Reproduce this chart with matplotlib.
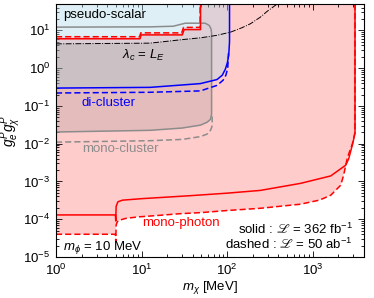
import matplotlib
matplotlib.use("Agg")
import matplotlib.pyplot as plt
from matplotlib.ticker import LogLocator, NullFormatter

plt.rcParams['font.family'] = ['Liberation Sans', 'DejaVu Sans']
plt.rcParams['mathtext.fontset'] = 'custom'
plt.rcParams['mathtext.rm'] = 'Liberation Sans'
plt.rcParams['mathtext.it'] = 'Liberation Sans:italic'
plt.rcParams['mathtext.bf'] = 'Liberation Sans:bold'
plt.rcParams['mathtext.fallback'] = 'stix'

# ---------------- data ----------------
# mono-photon lower boundary, solid (362 fb^-1)
mp_s_m = [1, 4.95, 5.0, 5.05, 5.3, 6, 10, 37, 100, 246, 722, 1630, 2445, 2650, 2950, 3140, 3140]
mp_s_g = [1.3e-4, 1.3e-4, 9e-5, 2.2e-4, 2.9e-4, 3.2e-4, 3.5e-4, 4.2e-4, 4.9e-4, 5.8e-4,
          8.9e-4, 1.4e-3, 2.7e-3, 4e-3, 1e-2, 1.9e-2, 50]
# mono-photon lower boundary, dashed (50 ab^-1)
mp_d_m = [1, 4.95, 5.0, 5.05, 5.2, 5.6, 6.5, 9, 15, 28, 50, 100, 246, 722, 1200, 1630,
          2130, 2300, 2560, 2930, 3140, 3140]
mp_d_g = [4e-5, 4e-5, 2.5e-5, 7e-5, 8.5e-5, 9.5e-5, 1.05e-4, 1.15e-4, 1.25e-4, 1.4e-4,
          1.5e-4, 1.7e-4, 1.95e-4, 2.5e-4, 3.2e-4, 4.3e-4, 7.9e-4, 1.4e-3, 4.3e-3, 1e-2, 2e-2, 50]
# mono-photon upper boundary (x < 49 MeV)
mpu_s_m = [1, 9.6, 9.9, 30, 31.5, 49, 49]
mpu_s_g = [6.0, 6.0, 7.6, 7.6, 10.5, 10.5, 50]
mpu_d_m = [1, 9.5, 9.8, 29.5, 31, 48.5, 48.5]
mpu_d_g = [6.8, 6.8, 8.6, 8.6, 12.0, 12.0, 50]
# di-cluster
dc_s_m = [1, 12.6, 48.8, 76.5, 88, 95.8, 101, 104.7, 107, 107]
dc_s_g = [0.297, 0.31, 0.39, 0.50, 0.65, 0.95, 1.4, 2.2, 5.0, 50]
dc_d_m = [1, 12.6, 48.8, 76.5, 90, 97, 102, 104]
dc_d_g = [0.22, 0.23, 0.25, 0.35, 0.48, 0.65, 1.0, 2.5]
# mono-cluster
mc_s_m = [1, 12.6, 30, 48.8, 58.5, 64, 66, 66, 65, 62, 55.6, 32.5, 23.5, 12.6, 1]
mc_s_g = [0.0204, 0.0226, 0.026, 0.031, 0.037, 0.044, 0.06, 8.5, 11.0, 13.5, 15.5, 15.5,
          12.9, 12.4, 12.2]
mc_d_m = [1, 12.6, 30, 48.8, 58.5, 64, 66.5, 67, 67]
mc_d_g = [0.011, 0.012, 0.013, 0.0154, 0.018, 0.0225, 0.028, 0.035, 0.055]
# lambda_c = L_E line
lam_m = [1, 12.6, 30, 50, 76, 110, 150, 188, 246, 295, 386]
lam_g = [4.4, 4.6, 5.7, 6.4, 7.4, 9.0, 11.8, 15, 22.5, 32, 50]

XMIN, XMAX, YMIN, YMAX = 1, 4000, 1e-5, 50

fig = plt.figure(figsize=(3.74, 2.98), dpi=100)
ax = fig.add_axes([56/374, 1-257/298, 308/374, 253/298])
ax.set_xscale('log')
ax.set_yscale('log')
ax.set_xlim(XMIN, XMAX)
ax.set_ylim(YMIN, YMAX)

# ---- fills ----
# mono-photon region (pink)
px_ = list(mp_d_m) + [3140, 49] + list(mpu_d_m[::-1])[1:]
py_ = list(mp_d_g) + [YMAX, YMAX] + list(mpu_d_g[::-1])[1:]
ax.fill(px_, py_, color=(1.0, 0.8, 0.8), lw=0, zorder=1)
# di-cluster region (light blue, alpha)
bx = list(dc_s_m) + [1]
by = list(dc_s_g) + [YMAX]
ax.fill(bx, by, color='#add8e6', alpha=0.4, lw=0, zorder=2)
# mono-cluster region (gray, alpha), bounded above by lambda_c line
lam_in = [(m, g) for m, g in zip(lam_m, lam_g) if m <= 66]
gx = list(mc_s_m[:7]) + [66] + [m for m, g in lam_in[::-1]]
gy = list(mc_s_g[:7]) + [6.9] + [g for m, g in lam_in[::-1]]
ax.fill(gx, gy, color='0.5', alpha=0.2, lw=0, zorder=3)

# ---- lines ----
ax.plot(mc_s_m, mc_s_g, color='#8c8c8c', lw=1.1, zorder=4)
ax.plot(mc_d_m, mc_d_g, color='#8c8c8c', lw=1.1, ls=(0, (4, 2)), zorder=4)
ax.plot(lam_m, lam_g, color='black', lw=0.7, ls=(0, (6, 1.5, 1, 1.5)), zorder=5)
ax.plot(dc_d_m, dc_d_g, color='#0000ff', lw=1.1, ls=(0, (4, 2)), zorder=6)
ax.plot(dc_s_m, dc_s_g, color='#0000ff', lw=1.1, zorder=6)
ax.plot(mp_d_m, mp_d_g, color='#ff0000', lw=1.1, ls=(0, (4, 2)), zorder=7)
ax.plot(mp_s_m, mp_s_g, color='#ff0000', lw=1.1, zorder=7)
ax.plot(mpu_d_m, mpu_d_g, color='#ff0000', lw=1.1, ls=(0, (4, 2)), zorder=7)
ax.plot(mpu_s_m, mpu_s_g, color='#ff0000', lw=1.1, zorder=7)

# ---- texts ----
fs = 9.5
ax.text(0.0227, 0.957, 'pseudo-scalar', transform=ax.transAxes, fontsize=fs, va='center', zorder=10)
ax.text(0.214, 0.798, r'$\lambda_c$ = $L_E$', transform=ax.transAxes, fontsize=fs, va='center', zorder=10)
ax.text(0.0844, 0.609, 'di-cluster', transform=ax.transAxes, fontsize=fs, va='center', color='#0000ff', zorder=10)
ax.text(0.0844, 0.427, 'mono-cluster', transform=ax.transAxes, fontsize=fs, va='center', color='#8c8c8c', zorder=10)
ax.text(0.279, 0.134, 'mono-photon', transform=ax.transAxes, fontsize=fs, va='center', color='#ff0000', zorder=10)
ax.text(0.0227, 0.036, r'$m_\phi$ = 10 MeV', transform=ax.transAxes, fontsize=fs, va='center', zorder=10)
ax.text(0.964, 0.111, 'solid : $\u2112$ = 362 fb$^{-1}$', transform=ax.transAxes, fontsize=fs,
        va='center', ha='right', zorder=10)
ax.text(0.964, 0.051, 'dashed : $\u2112$ = 50 ab$^{-1}$', transform=ax.transAxes, fontsize=fs,
        va='center', ha='right', zorder=10)

# ---- axes ----
ax.set_yticks([1e-5, 1e-4, 1e-3, 1e-2, 1e-1, 1, 10])
ax.set_yticklabels([r'$10^{-5}$', r'$10^{-4}$', r'$10^{-3}$', r'$10^{-2}$', r'$10^{-1}$',
                    r'$10^{0}$', r'$10^{1}$'])
ax.set_xticks([1, 10, 100, 1000])
ax.set_xticklabels([r'$10^{0}$', r'$10^{1}$', r'$10^{2}$', r'$10^{3}$'])
ax.xaxis.set_minor_locator(LogLocator(base=10, subs=range(2, 10), numticks=20))
ax.yaxis.set_minor_locator(LogLocator(base=10, subs=range(2, 10), numticks=20))
ax.xaxis.set_minor_formatter(NullFormatter())
ax.yaxis.set_minor_formatter(NullFormatter())
ax.tick_params(which='both', direction='in', top=True, right=True, labelsize=9.5, width=0.6)
ax.tick_params(which='major', length=4, pad=4)
ax.tick_params(which='minor', length=2)
for s in ax.spines.values():
    s.set_linewidth(0.8)
    s.set_zorder(12)

ax.set_xlabel(r'$m_\chi$ [MeV]', fontsize=9.5, labelpad=1)
ax.set_ylabel(r'$g_e^P g_\chi^P$', fontsize=10, labelpad=0)

fig.savefig('out.png', dpi=100)
